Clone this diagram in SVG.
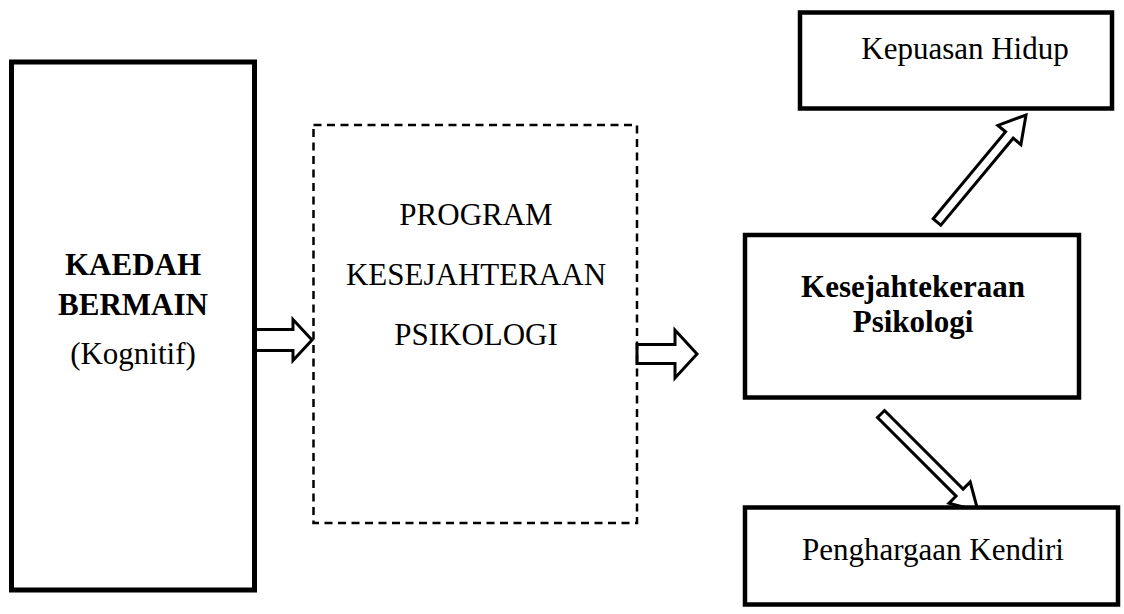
<svg xmlns="http://www.w3.org/2000/svg" width="1124" height="614" viewBox="0 0 1124 614">
<style>
.box{fill:#fff;stroke:#000}
.t{font-family:"Liberation Serif","Times New Roman",serif;font-size:31px;fill:#000;text-anchor:middle}
.b{font-weight:bold}
.arr{fill:#fff;stroke:#000;stroke-width:3;stroke-linejoin:miter}
</style>
<rect width="1124" height="614" fill="#fff"/>
<g id="connectors">
<polygon class="arr" points="254,329.5 293,329.5 293,319.5 312,340 293,360.5 293,350.5 254,350.5"/>
<polygon class="arr" points="637,344.5 675,344.5 675,330 697,354 675,378 675,363.5 637,363.5"/>
<polygon class="arr" points="933.2,218.8 1005.6,131.8 997.9,125.4 1026,115 1020.9,144.6 1013.2,138.2 940.8,225.2"/>
<polygon class="arr" points="884.5,410.5 963.1,489.1 970.2,482 978,511 949,503.2 956.1,496.1 877.5,417.5"/>
</g>
<g id="kaedah">
<rect class="box" x="11.5" y="62" width="243" height="528" stroke-width="5"/>
<text class="t b" x="133" y="275">KAEDAH</text>
<text class="t b" x="133" y="315">BERMAIN</text>
<text class="t" x="133" y="364">(Kognitif)</text>
</g>
<g id="program">
<rect x="313.5" y="125" width="323.5" height="398" fill="none" stroke="#000" stroke-width="2.5" stroke-dasharray="8 5.5"/>
<text class="t" x="476" y="225">PROGRAM</text>
<text class="t" x="476" y="285">KESEJAHTERAAN</text>
<text class="t" x="476" y="345">PSIKOLOGI</text>
</g>
<g id="kesejahteraan">
<rect class="box" x="745" y="235" width="334" height="162.5" stroke-width="4.5"/>
<text class="t b" x="913" y="297">Kesejahtekeraan</text>
<text class="t b" x="913" y="332">Psikologi</text>
</g>
<g id="kepuasan">
<rect class="box" x="800" y="12.5" width="312" height="96" stroke-width="4.5"/>
<text class="t" x="965" y="59">Kepuasan Hidup</text>
</g>
<g id="penghargaan">
<rect class="box" x="745" y="507.5" width="373" height="97" stroke-width="4.5"/>
<text class="t" x="933" y="560">Penghargaan Kendiri</text>
</g>
</svg>
